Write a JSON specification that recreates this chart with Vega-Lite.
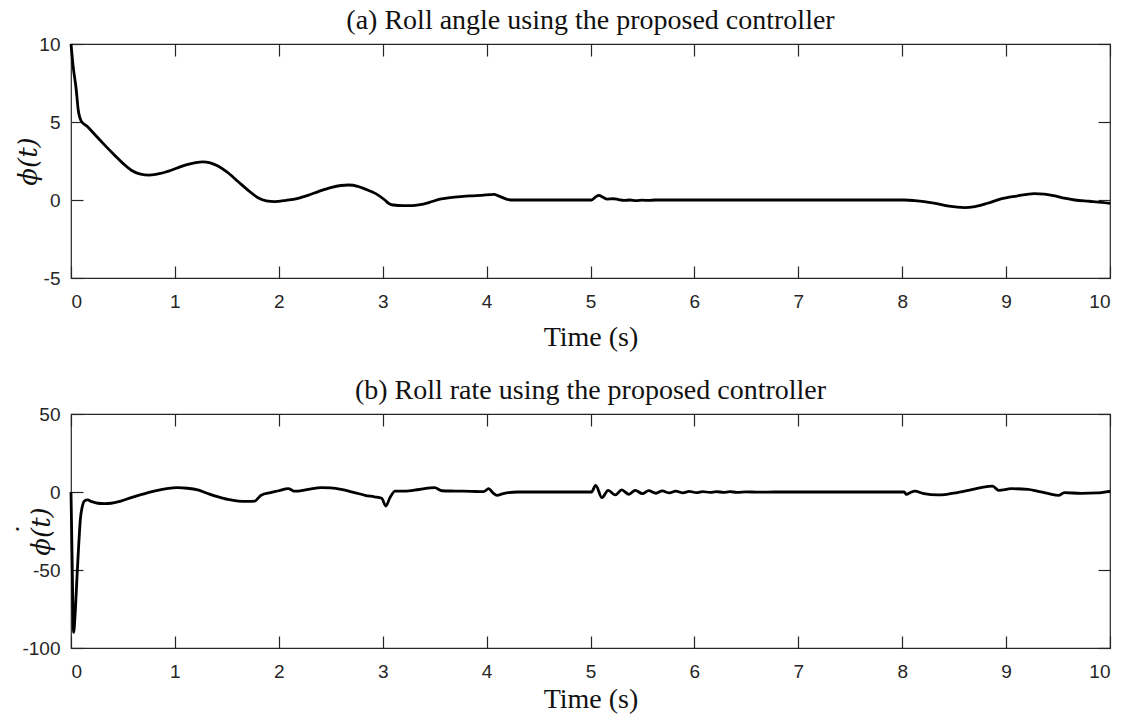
{
  "$schema": "https://vega.github.io/schema/vega-lite/v6.json",
  "background": "white",
  "padding": {"left": 13, "top": 6, "right": 0, "bottom": 0},
  "spacing": 24,
  "config": {
    "view": {"stroke": "#262626", "strokeWidth": 1.2},
    "line": {"interpolate": "monotone"},
    "axis": {
      "domain": false,
      "grid": false,
      "tickColor": "#262626",
      "tickWidth": 1.2,
      "tickSize": -12,
      "labelFont": "Liberation Sans",
      "labelFontSize": 19,
      "labelColor": "#262626",
      "labelExpr": "replace(datum.label, '\u2212', '-')",
      "titleFont": "Liberation Serif",
      "titleFontSize": 28,
      "titleFontWeight": "normal",
      "titleColor": "#111111"
    },
    "title": {"font": "Liberation Serif", "fontSize": 28, "fontWeight": "normal", "color": "#111111"}
  },
  "datasets": {
    "angle": [
      {"t": 0, "v": 10}, {"t": 0.02, "v": 8.6}, {"t": 0.05, "v": 7.1}, {"t": 0.07, "v": 5.75},
      {"t": 0.1, "v": 5.04}, {"t": 0.16, "v": 4.7}, {"t": 0.22, "v": 4.26}, {"t": 0.32, "v": 3.55},
      {"t": 0.42, "v": 2.87}, {"t": 0.5, "v": 2.35}, {"t": 0.58, "v": 1.91}, {"t": 0.66, "v": 1.68},
      {"t": 0.755, "v": 1.6}, {"t": 0.86, "v": 1.7}, {"t": 0.965, "v": 1.91}, {"t": 1.05, "v": 2.12},
      {"t": 1.125, "v": 2.28}, {"t": 1.2, "v": 2.4}, {"t": 1.27, "v": 2.45}, {"t": 1.34, "v": 2.38},
      {"t": 1.41, "v": 2.19}, {"t": 1.5, "v": 1.8}, {"t": 1.61, "v": 1.17}, {"t": 1.7, "v": 0.65},
      {"t": 1.8, "v": 0.15}, {"t": 1.88, "v": -0.05}, {"t": 1.96, "v": -0.1}, {"t": 2.07, "v": -0.02},
      {"t": 2.185, "v": 0.11}, {"t": 2.28, "v": 0.3}, {"t": 2.38, "v": 0.54}, {"t": 2.5, "v": 0.8},
      {"t": 2.6, "v": 0.93}, {"t": 2.67, "v": 0.96}, {"t": 2.76, "v": 0.88}, {"t": 2.84, "v": 0.68},
      {"t": 2.89, "v": 0.54}, {"t": 2.96, "v": 0.3}, {"t": 3.02, "v": 0.0}, {"t": 3.06, "v": -0.22},
      {"t": 3.1, "v": -0.32}, {"t": 3.2, "v": -0.36}, {"t": 3.28, "v": -0.36}, {"t": 3.36, "v": -0.3},
      {"t": 3.45, "v": -0.15}, {"t": 3.55, "v": 0.05}, {"t": 3.65, "v": 0.15}, {"t": 3.75, "v": 0.22},
      {"t": 3.84, "v": 0.27}, {"t": 3.95, "v": 0.3}, {"t": 4.07, "v": 0.36}, {"t": 4.12, "v": 0.25},
      {"t": 4.19, "v": 0.06}, {"t": 4.25, "v": 0.0}, {"t": 4.6, "v": 0.0}, {"t": 5.01, "v": 0.0},
      {"t": 5.05, "v": 0.2}, {"t": 5.08, "v": 0.3}, {"t": 5.12, "v": 0.18}, {"t": 5.16, "v": 0.06},
      {"t": 5.22, "v": 0.08}, {"t": 5.27, "v": 0.03}, {"t": 5.32, "v": -0.03}, {"t": 5.38, "v": 0.0},
      {"t": 5.44, "v": -0.04}, {"t": 5.5, "v": -0.01}, {"t": 5.56, "v": -0.03}, {"t": 5.62, "v": 0.0},
      {"t": 5.8, "v": 0.0}, {"t": 6.0, "v": 0.0}, {"t": 7.0, "v": 0.0}, {"t": 8.02, "v": 0.0},
      {"t": 8.12, "v": -0.04}, {"t": 8.21, "v": -0.1}, {"t": 8.32, "v": -0.22}, {"t": 8.45, "v": -0.4},
      {"t": 8.6, "v": -0.49}, {"t": 8.7, "v": -0.42}, {"t": 8.82, "v": -0.21}, {"t": 8.95, "v": 0.07},
      {"t": 9.1, "v": 0.25}, {"t": 9.27, "v": 0.41}, {"t": 9.37, "v": 0.37}, {"t": 9.47, "v": 0.26},
      {"t": 9.56, "v": 0.12}, {"t": 9.66, "v": 0.0}, {"t": 9.8, "v": -0.08}, {"t": 9.92, "v": -0.15},
      {"t": 10.0, "v": -0.21}
    ],
    "rate": [
      {"t": 0, "v": 0}, {"t": 0.01, "v": -40}, {"t": 0.025, "v": -90}, {"t": 0.04, "v": -78},
      {"t": 0.058, "v": -54}, {"t": 0.075, "v": -33}, {"t": 0.09, "v": -17.5}, {"t": 0.11, "v": -9},
      {"t": 0.128, "v": -5.8}, {"t": 0.16, "v": -5.1}, {"t": 0.2, "v": -6.2}, {"t": 0.257, "v": -7.2},
      {"t": 0.32, "v": -7.4}, {"t": 0.386, "v": -7.2}, {"t": 0.48, "v": -5.8}, {"t": 0.58, "v": -3.6},
      {"t": 0.69, "v": -1.4}, {"t": 0.8, "v": 0.6}, {"t": 0.92, "v": 2.2}, {"t": 1.03, "v": 2.8},
      {"t": 1.12, "v": 2.4}, {"t": 1.22, "v": 1.3}, {"t": 1.31, "v": -0.8}, {"t": 1.41, "v": -3},
      {"t": 1.51, "v": -4.8}, {"t": 1.61, "v": -5.8}, {"t": 1.7, "v": -6.0}, {"t": 1.77, "v": -5.8},
      {"t": 1.8, "v": -4}, {"t": 1.83, "v": -2.1}, {"t": 1.92, "v": -0.4}, {"t": 2.0, "v": 0.8},
      {"t": 2.09, "v": 2.2}, {"t": 2.12, "v": 1.5}, {"t": 2.14, "v": 0.6}, {"t": 2.19, "v": 0.6},
      {"t": 2.3, "v": 1.9}, {"t": 2.41, "v": 2.8}, {"t": 2.5, "v": 2.6}, {"t": 2.6, "v": 1.7},
      {"t": 2.72, "v": -0.2}, {"t": 2.83, "v": -2.1}, {"t": 2.92, "v": -3.1}, {"t": 2.99, "v": -4},
      {"t": 3.03, "v": -9}, {"t": 3.07, "v": -3.6}, {"t": 3.12, "v": 0.6}, {"t": 3.21, "v": 0.6},
      {"t": 3.35, "v": 1.6}, {"t": 3.5, "v": 2.8}, {"t": 3.57, "v": 0.8}, {"t": 3.7, "v": 0.6},
      {"t": 3.85, "v": 0.4}, {"t": 3.97, "v": 0.2}, {"t": 4.02, "v": 2.1}, {"t": 4.06, "v": -0.5},
      {"t": 4.1, "v": -2.1}, {"t": 4.16, "v": -1}, {"t": 4.3, "v": 0}, {"t": 5.01, "v": 0},
      {"t": 5.05, "v": 4.3}, {"t": 5.11, "v": -3.6}, {"t": 5.17, "v": 1}, {"t": 5.24, "v": -1.9},
      {"t": 5.3, "v": 1.3}, {"t": 5.37, "v": -1.5}, {"t": 5.43, "v": 1.1}, {"t": 5.5, "v": -1.1},
      {"t": 5.56, "v": 0.9}, {"t": 5.63, "v": -0.8}, {"t": 5.69, "v": 0.7}, {"t": 5.76, "v": -0.6},
      {"t": 5.82, "v": 0.5}, {"t": 5.89, "v": -0.5}, {"t": 5.95, "v": 0.4}, {"t": 6.02, "v": -0.4},
      {"t": 6.08, "v": 0.3}, {"t": 6.15, "v": -0.3}, {"t": 6.21, "v": 0.25}, {"t": 6.28, "v": -0.25},
      {"t": 6.34, "v": 0.2}, {"t": 6.41, "v": -0.2}, {"t": 6.5, "v": 0.1}, {"t": 6.6, "v": -0.1},
      {"t": 6.8, "v": 0}, {"t": 8.02, "v": 0}, {"t": 8.04, "v": -1.5}, {"t": 8.08, "v": -0.3},
      {"t": 8.12, "v": 0.6}, {"t": 8.21, "v": -1.1}, {"t": 8.34, "v": -1.9}, {"t": 8.43, "v": -1.5},
      {"t": 8.53, "v": -0.4}, {"t": 8.65, "v": 1.2}, {"t": 8.76, "v": 2.8}, {"t": 8.87, "v": 3.8},
      {"t": 8.93, "v": 1.1}, {"t": 9.05, "v": 2.1}, {"t": 9.21, "v": 1.7}, {"t": 9.3, "v": 0.6},
      {"t": 9.4, "v": -0.9}, {"t": 9.51, "v": -2.1}, {"t": 9.56, "v": -0.4}, {"t": 9.72, "v": -0.9},
      {"t": 9.88, "v": -0.6}, {"t": 10, "v": 0.6}
    ]
  },
  "vconcat": [
    {
      "title": {"text": "(a) Roll angle using the proposed controller", "offset": 0},
      "width": 1039,
      "height": 234,
      "data": {"name": "angle"},
      "layer": [
        {
          "mark": {"type": "line", "color": "black", "strokeWidth": 2.8},
          "encoding": {
            "x": {"field": "t", "type": "quantitative", "scale": {"domain": [0, 10], "nice": false},
                  "axis": {"orient": "bottom", "values": [0, 1, 2, 3, 4, 5, 6, 7, 8, 9, 10], "labelPadding": 26, "title": "Time (s)", "titlePadding": 12}},
            "y": {"field": "v", "type": "quantitative", "scale": {"domain": [-5, 10], "nice": false},
                  "axis": {"orient": "left", "values": [-5, 0, 5, 10], "labelPadding": 23, "title": "\u03d5(t)", "titleFont": "DejaVu Serif", "titleFontSize": 26, "titleFontStyle": "italic", "titleX": -43, "titleBaseline": "middle"}}
          }
        },
        {
          "mark": {"type": "line", "opacity": 0},
          "encoding": {
            "x": {"field": "t", "type": "quantitative", "scale": {"domain": [0, 10], "nice": false},
                  "axis": {"orient": "top", "values": [0, 1, 2, 3, 4, 5, 6, 7, 8, 9, 10], "labels": false, "title": null}},
            "y": {"field": "v", "type": "quantitative", "scale": {"domain": [-5, 10], "nice": false},
                  "axis": {"orient": "right", "values": [-5, 0, 5, 10], "labels": false, "title": null}}
          }
        }
      ],
      "resolve": {"axis": {"x": "independent", "y": "independent"}}
    },
    {
      "title": {"text": "(b) Roll rate using the proposed controller", "offset": 0},
      "width": 1039,
      "height": 234,
      "data": {"name": "rate"},
      "layer": [
        {
          "mark": {"type": "line", "color": "black", "strokeWidth": 2.8},
          "encoding": {
            "x": {"field": "t", "type": "quantitative", "scale": {"domain": [0, 10], "nice": false},
                  "axis": {"orient": "bottom", "values": [0, 1, 2, 3, 4, 5, 6, 7, 8, 9, 10], "labelPadding": 26, "title": "Time (s)", "titlePadding": 4}},
            "y": {"field": "v", "type": "quantitative", "scale": {"domain": [-100, 50], "nice": false},
                  "axis": {"orient": "left", "values": [-100, -50, 0, 50], "labelPadding": 23, "title": ["\u02d9\u00a0\u00a0\u00a0\u00a0\u00a0\u00a0\u00a0\u00a0", "\u03d5(t)"], "titleLineHeight": 14, "titleFont": "DejaVu Serif", "titleFontSize": 26, "titleFontStyle": "italic", "titleX": -44, "titleBaseline": "middle"}}
          }
        },
        {
          "mark": {"type": "line", "opacity": 0},
          "encoding": {
            "x": {"field": "t", "type": "quantitative", "scale": {"domain": [0, 10], "nice": false},
                  "axis": {"orient": "top", "values": [0, 1, 2, 3, 4, 5, 6, 7, 8, 9, 10], "labels": false, "title": null}},
            "y": {"field": "v", "type": "quantitative", "scale": {"domain": [-100, 50], "nice": false},
                  "axis": {"orient": "right", "values": [-100, -50, 0, 50], "labels": false, "title": null}}
          }
        }
      ],
      "resolve": {"axis": {"x": "independent", "y": "independent"}}
    }
  ]
}
